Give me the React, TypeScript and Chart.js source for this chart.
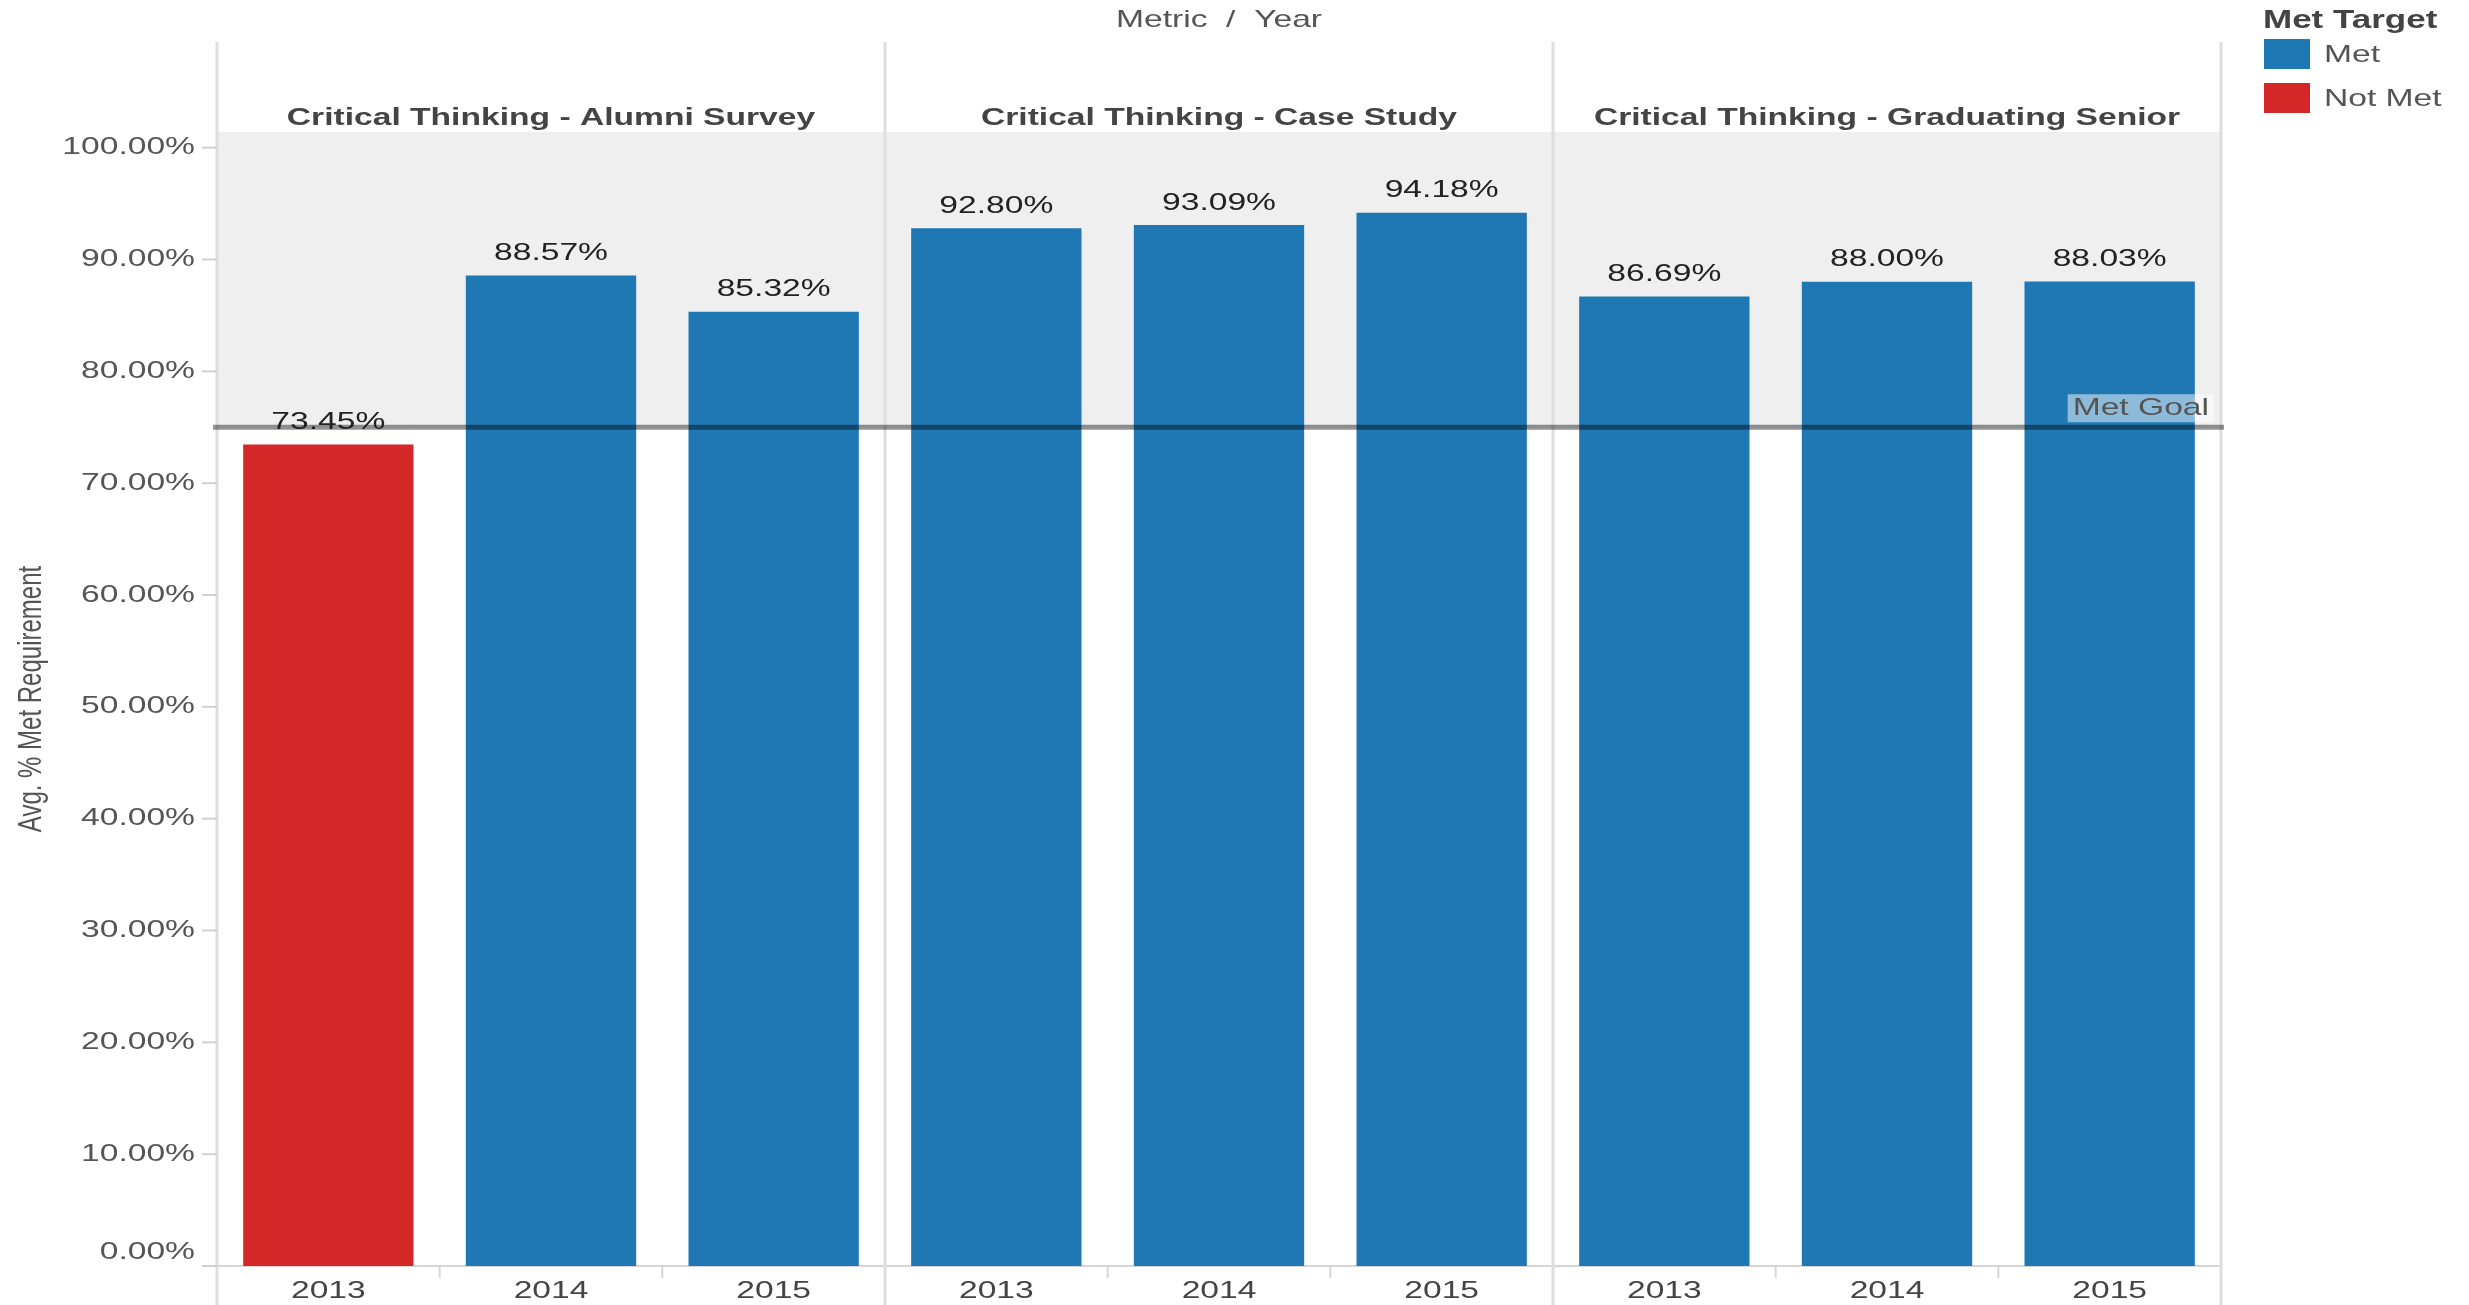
import React, { useEffect, useRef } from "react";
import { Chart, registerables } from "chart.js";

Chart.register(...registerables);

// ---- data ----
const metrics = [
  "Critical Thinking - Alumni Survey",
  "Critical Thinking - Case Study",
  "Critical Thinking - Graduating Senior",
];
const years = ["2013", "2014", "2015"];
const alumniSurveyValues = [73.45, 88.57, 85.32];
const caseStudyValues = [92.8, 93.09, 94.18];
const graduatingSeniorValues = [86.69, 88.0, 88.03];
const goalValue = 75;
const goalLabel = "Met Goal";
const yTicks = [0, 10, 20, 30, 40, 50, 60, 70, 80, 90, 100];
const legendTitle = "Met Target";
const legendLabels = ["Met", "Not Met"];
const axisTitleX = "Metric  /  Year";
const axisTitleY = "Avg. % Met Requirement";

const BLUE = "#1f77b4";
const RED = "#d62728";
const SX = 1.4; // horizontal stretch of the reference text
const FONT = "'Liberation Sans', Arial, sans-serif";

function txt(
  ctx: CanvasRenderingContext2D,
  s: string,
  x: number,
  y: number,
  font: string,
  color: string,
  align: "left" | "center" | "right"
) {
  ctx.save();
  ctx.font = font;
  ctx.fillStyle = color;
  ctx.textBaseline = "middle";
  ctx.textAlign = "left";
  const w = ctx.measureText(s).width * SX;
  const x0 = align === "center" ? x - w / 2 : align === "right" ? x - w : x;
  ctx.translate(x0, y);
  ctx.scale(SX, 1);
  ctx.fillText(s, 0, 0);
  ctx.restore();
  return w;
}

function line(ctx: CanvasRenderingContext2D, x1: number, y1: number, x2: number, y2: number, color: string, w: number) {
  ctx.save();
  ctx.strokeStyle = color;
  ctx.lineWidth = w;
  ctx.beginPath();
  ctx.moveTo(x1, y1);
  ctx.lineTo(x2, y2);
  ctx.stroke();
  ctx.restore();
}

export default function App() {
  const ref = useRef<HTMLCanvasElement>(null);

  useEffect(() => {
    document.body.style.margin = "0";
    const values = [...alumniSurveyValues, ...caseStudyValues, ...graduatingSeniorValues];
    const labels = metrics.flatMap(() => years);
    const colors = values.map((v) => (v >= goalValue ? BLUE : RED));
    const perPanel = years.length;

    const decor = {
      id: "tableauDecor",
      beforeDatasetsDraw(chart: any) {
        const { ctx, chartArea } = chart;
        const y = chart.scales.y;
        const left = chartArea.left;
        const right = chartArea.right;
        const slot = (right - left) / values.length;
        // reference band
        ctx.save();
        ctx.fillStyle = "#efefef";
        const bTop = y.getPixelForValue(y.max);
        const bBot = y.getPixelForValue(goalValue);
        ctx.fillRect(left, bTop, right - left, bBot - bTop);
        ctx.restore();
        // baseline
        const y0 = y.getPixelForValue(0);
        line(ctx, 202, y0, right, y0, "#d6d6d6", 2);
        // x tick marks inside panels
        for (let i = 1; i < values.length; i++) {
          if (i % perPanel === 0) continue;
          const xx = left + slot * i;
          line(ctx, xx, y0, xx, y0 + 12, "#d6d6d6", 2);
        }
        // panel dividers
        for (let p = 0; p <= metrics.length; p++) {
          const xx = left + slot * perPanel * p;
          line(ctx, xx, 42, xx, chart.height, "#dedede", 3);
        }
        // y tick marks
        yTicks.forEach((t) => {
          const yy = y.getPixelForValue(t);
          line(ctx, 202, yy, left, yy, "#d0d0d0", 2);
        });
      },
      afterDatasetsDraw(chart: any) {
        const { ctx, chartArea } = chart;
        const x = chart.scales.x;
        const y = chart.scales.y;
        const left = chartArea.left;
        const right = chartArea.right;
        const slot = (right - left) / values.length;
        const f24 = `24px ${FONT}`;
        const b24 = `bold 24px ${FONT}`;
        // goal line
        const gy = y.getPixelForValue(goalValue);
        line(ctx, left - 4, gy, right + 3, gy, "rgba(0,0,0,0.42)", 5);
        // goal label
        ctx.save();
        ctx.font = f24;
        const gw = ctx.measureText(goalLabel).width * SX;
        ctx.restore();
        const gx = right - 12 - gw;
        ctx.save();
        ctx.fillStyle = "rgba(255,255,255,0.5)";
        ctx.fillRect(gx - 5, gy - 33, gw + 10, 28);
        ctx.restore();
        txt(ctx, goalLabel, gx, gy - 19, f24, "#555", "left");
        // value labels
        const meta = chart.getDatasetMeta(0);
        meta.data.forEach((bar: any, i: number) => {
          txt(ctx, values[i].toFixed(2) + "%", bar.x, bar.y - 22, f24, "#222", "center");
        });
        // y tick labels
        yTicks.forEach((t) => {
          let yy = y.getPixelForValue(t);
          if (t === 0) yy -= 14;
          txt(ctx, t.toFixed(2) + "%", 195, yy, f24, "#555", "right");
        });
        // year labels
        labels.forEach((l, i) => {
          txt(ctx, l, x.getPixelForValue(i), 1291, f24, "#444", "center");
        });
        // panel headers
        metrics.forEach((m, p) => {
          const cx = left + slot * perPanel * (p + 0.5);
          txt(ctx, m, cx, 118, b24, "#444", "center");
        });
        // x axis title
        txt(ctx, axisTitleX, (left + right) / 2, 20, f24, "#555", "center");
        // y axis title (rotated)
        ctx.save();
        ctx.font = f24;
        ctx.fillStyle = "#555";
        ctx.textAlign = "center";
        ctx.textBaseline = "middle";
        ctx.translate(32, (chartArea.top + chartArea.bottom) / 2);
        ctx.rotate(-Math.PI / 2);
        ctx.scale(1, SX);
        ctx.fillText(axisTitleY, 0, 0);
        ctx.restore();
        // legend
        txt(ctx, legendTitle, 2263, 21, `bold 25px ${FONT}`, "#444", "left");
        const legendColors = [BLUE, RED];
        legendLabels.forEach((l, i) => {
          const yy = 39 + i * 44;
          ctx.save();
          ctx.fillStyle = legendColors[i];
          ctx.fillRect(2264, yy, 46, 30);
          ctx.restore();
          txt(ctx, l, 2324, yy + 16, f24, "#555", "left");
        });
      },
    };

    const chart = new Chart(ref.current as HTMLCanvasElement, {
      type: "bar",
      data: {
        labels,
        datasets: [
          {
            label: axisTitleY,
            data: values,
            backgroundColor: colors,
            borderWidth: 0,
            barPercentage: 0.765,
            categoryPercentage: 1,
          },
        ],
      },
      options: {
        responsive: false,
        animation: false,
        devicePixelRatio: 1,
        layout: { padding: { top: 132, right: 248, left: 0, bottom: 0 } },
        plugins: { legend: { display: false }, tooltip: { enabled: false } },
        scales: {
          x: {
            type: "category",
            grid: { display: false },
            border: { display: false },
            ticks: { display: false },
            afterFit: (s: any) => {
              s.height = 1305 - 1266;
            },
          },
          y: {
            min: 0,
            max: 101.4,
            grid: { display: false },
            border: { display: false },
            ticks: { display: false },
            afterBuildTicks: (s: any) => {
              s.ticks = yTicks.map((v) => ({ value: v }));
            },
            afterFit: (s: any) => {
              s.width = 217;
            },
          },
        },
      },
      plugins: [decor],
    });
    return () => chart.destroy();
  }, []);

  return (
    <canvas
      ref={ref}
      width={2469}
      height={1305}
      style={{ display: "block", width: 2469, height: 1305 }}
    />
  );
}
